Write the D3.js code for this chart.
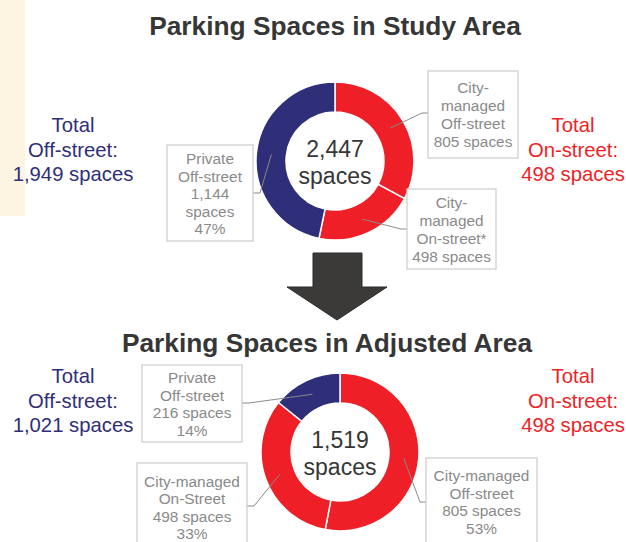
<!DOCTYPE html>
<html>
<head>
<meta charset="utf-8">
<script src="https://cdn.jsdelivr.net/npm/d3@7"></script>
<style>
  body { margin: 0; background: #fff; }
  svg { display: block; font-family: "Liberation Sans", Arial, sans-serif; }
</style>
</head>
<body>
<div id="container"></div>
<script>
// data
const segments = ["City-managed Off-street", "City-managed On-street", "Private Off-street"];
const studyValues = [805, 498, 1144];
const adjustedValues = [805, 498, 216];
const studyTotal = "2,447";
const adjustedTotal = "1,519";
const studyLabels = [
    ["City-", "managed", "Off-street", "805 spaces"],
    ["City-", "managed", "On-street*", "498 spaces"],
    ["Private", "Off-street", "1,144", "spaces", "47%"]
];
const adjustedLabels = [
    ["City-managed", "Off-street", "805 spaces", "53%"],
    ["City-managed", "On-Street", "498 spaces", "33%"],
    ["Private", "Off-street", "216 spaces", "14%"]
];
const studyOff = ["Total", "Off-street:", "1,949 spaces"];
const studyOn = ["Total", "On-street:", "498 spaces"];
const adjustedOff = ["Total", "Off-street:", "1,021 spaces"];
const adjustedOn = ["Total", "On-street:", "498 spaces"];

const RED = "#ee1f26", BLUE = "#2f2e78", DARK = "#363636", GREY = "#8a8a8a";
const color = d3.scaleOrdinal().domain(segments).range([RED, RED, BLUE]);

const W = 626, H = 542;
const svg = d3.select("#container").append("svg")
    .attr("width", W).attr("height", H);

// cream strip on the left
svg.append("rect").attr("x", 0).attr("y", 0).attr("width", 25).attr("height", 216)
    .attr("fill", "#fdf5e1");

function addTitle(t, x, y) {
    svg.append("text")
        .attr("x", x).attr("y", y)
        .attr("text-anchor", "middle")
        .attr("font-size", 26.3).attr("font-weight", "bold")
        .attr("fill", DARK)
        .text(t);
}

function addSide(lines, x, y, col) {
    const t = svg.append("text")
        .attr("text-anchor", "middle")
        .attr("font-size", 20.3)
        .attr("fill", col);
    lines.forEach((l, i) => {
        t.append("tspan").attr("x", x).attr("y", y + i * 24.5).text(l);
    });
}

function addDonut(values, labels, total, cx, cy, boxes) {
    const g = svg.append("g").attr("transform", `translate(${cx},${cy})`);
    const pie = d3.pie().sort(null).value(d => d.v);
    const arc = d3.arc().innerRadius(49).outerRadius(79);
    const data = pie(values.map((v, i) => ({ v: v, k: segments[i] })));

    g.selectAll("path.seg")
        .data(data)
        .join("path")
        .attr("class", "seg")
        .attr("d", arc)
        .attr("fill", d => color(d.data.k))
        .attr("stroke", "#fff")
        .attr("stroke-width", 1.5);

    const c = g.append("text")
        .attr("text-anchor", "middle")
        .attr("font-size", 23)
        .attr("fill", DARK);
    c.append("tspan").attr("x", 0).attr("y", -4).text(total);
    c.append("tspan").attr("x", 0).attr("y", 23).text("spaces");

    data.forEach((d, i) => {
        const b = boxes[i];
        const p = arc.centroid(d);
        const ex = b.side === "right" ? b.x + b.w : b.x;
        const kx = b.side === "right" ? ex + 7 : ex - 6;
        svg.append("path")
            .attr("d", d3.line()([[ex, b.ly], [kx, b.ly], [cx + p[0], cy + p[1]]]))
            .attr("fill", "none")
            .attr("stroke", GREY)
            .attr("stroke-width", 1);

        svg.append("rect")
            .attr("x", b.x).attr("y", b.y)
            .attr("width", b.w).attr("height", b.h)
            .attr("fill", "#fff")
            .attr("stroke", "#cfcfcf")
            .attr("stroke-width", 1.3);

        const t = svg.append("text")
            .attr("text-anchor", "middle")
            .attr("font-size", 15.4)
            .attr("fill", GREY);
        labels[i].forEach((l, j) => {
            t.append("tspan")
                .attr("x", b.x + b.w / 2)
                .attr("y", b.ty + j * b.lh)
                .text(l);
        });
    });
}

// top chart
addTitle("Parking Spaces in Study Area", 335, 35);
addSide(studyOff, 73, 132, BLUE);
addSide(studyOn, 573, 132, RED);
addDonut(studyValues, studyLabels, studyTotal, 335, 161, [
    { x: 428, y: 71, w: 90, h: 87, ty: 93, lh: 18, ly: 113, side: "left" },
    { x: 407, y: 189, w: 89, h: 80, ty: 208, lh: 18, ly: 229, side: "left" },
    { x: 167, y: 145, w: 86, h: 96, ty: 164, lh: 17.6, ly: 193, side: "right" }
]);

// arrow
svg.append("path")
    .attr("d", d3.line()([[313, 253], [362, 253], [362, 287], [387, 287], [337, 320], [287, 287], [313, 287]]) + "Z")
    .attr("fill", "#3b3a38")
    .attr("stroke", "#2a2a2a")
    .attr("stroke-width", 1);

// bottom chart
addTitle("Parking Spaces in Adjusted Area", 327, 352);
addSide(adjustedOff, 73, 383, BLUE);
addSide(adjustedOn, 573, 383, RED);
addDonut(adjustedValues, adjustedLabels, adjustedTotal, 340, 452, [
    { x: 426, y: 458, w: 111, h: 95, ty: 481, lh: 17.6, ly: 502, side: "left" },
    { x: 137, y: 463, w: 110, h: 95, ty: 487, lh: 17.3, ly: 506, side: "right" },
    { x: 142, y: 365, w: 100, h: 77, ty: 383, lh: 17.6, ly: 403, side: "right" }
]);
</script>
</body>
</html>
